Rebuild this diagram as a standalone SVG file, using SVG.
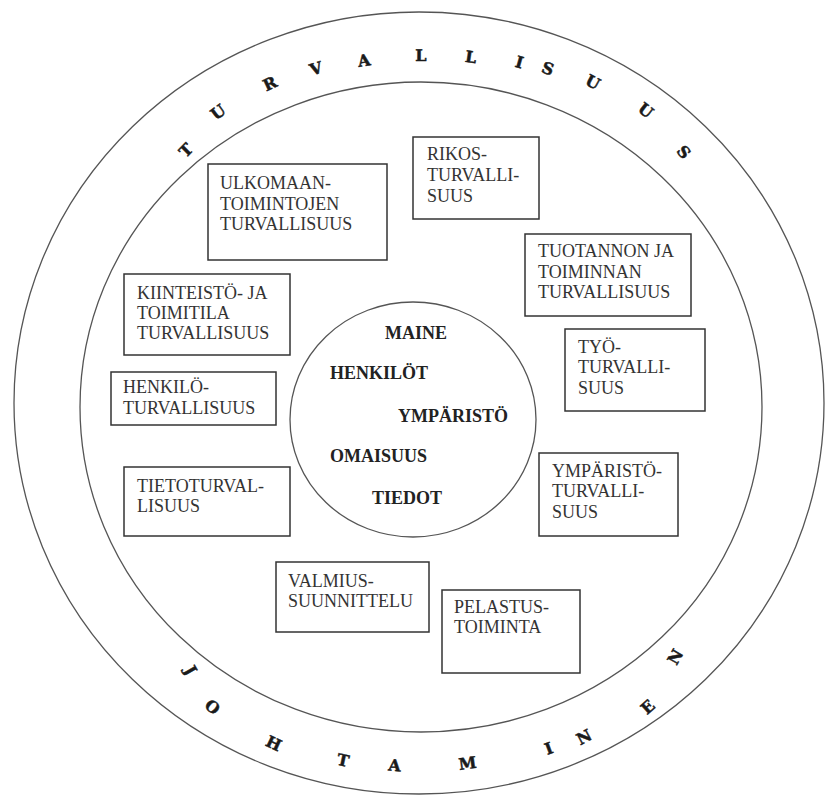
<svg xmlns="http://www.w3.org/2000/svg" width="830" height="796" viewBox="0 0 830 796">
<style>
.ring{fill:none;stroke:#555;stroke-width:1.3}
.box{fill:#fff;stroke:#333;stroke-width:1.5}
.bt{font-family:"Liberation Serif","Times New Roman",serif;font-size:18px;fill:#333}
.ct{font-family:"Liberation Serif","Times New Roman",serif;font-size:18px;font-weight:bold;fill:#222}
.arc{font-family:"DejaVu Serif","Liberation Serif",serif;font-size:16px;font-weight:bold;fill:#1a1a1a;stroke:#1a1a1a;stroke-width:0.5;text-anchor:middle}
</style>
<rect width="830" height="796" fill="#fff"/>
<g id="rings">
<ellipse class="ring" cx="419" cy="403" rx="405" ry="391"/>
<ellipse class="ring" cx="421" cy="407" rx="341" ry="325"/>
</g>
<g id="title-top">
<text class="arc" transform="translate(185.7,150) rotate(-45)" y="6">T</text>
<text class="arc" transform="translate(217.9,111.7) rotate(-36)" y="6">U</text>
<text class="arc" transform="translate(269.6,83.3) rotate(-25.1)" y="6">R</text>
<text class="arc" transform="translate(316,68.3) rotate(-17.2)" y="6">V</text>
<text class="arc" transform="translate(364,60) rotate(-9.2)" y="6">A</text>
<text class="arc" transform="translate(421,55) rotate(0.2)" y="6">L</text>
<text class="arc" transform="translate(471,56.7) rotate(8.3)" y="6">L</text>
<text class="arc" transform="translate(519.6,61.7) rotate(16.2)" y="6">I</text>
<text class="arc" transform="translate(548,68.3) rotate(20.8)" y="6">S</text>
<text class="arc" transform="translate(593,81.7) rotate(28.2)" y="6">U</text>
<text class="arc" transform="translate(646,110) rotate(38)" y="6">U</text>
<text class="arc" transform="translate(684,151.7) rotate(50)" y="6">S</text>
</g>
<g id="title-bottom">
<text class="arc" transform="translate(191,670) rotate(60)" y="6">J</text>
<text class="arc" transform="translate(212.6,706.7) rotate(40)" y="6">O</text>
<text class="arc" transform="translate(274,743) rotate(25)" y="6">H</text>
<text class="arc" transform="translate(343,760) rotate(12.2)" y="6">T</text>
<text class="arc" transform="translate(394.5,765) rotate(4.1)" y="6">A</text>
<text class="arc" transform="translate(467.6,763) rotate(-7.6)" y="6">M</text>
<text class="arc" transform="translate(548.6,748) rotate(-20.6)" y="6">I</text>
<text class="arc" transform="translate(584,736.7) rotate(-28)" y="6">N</text>
<text class="arc" transform="translate(647.4,706.7) rotate(-42)" y="6">E</text>
<text class="arc" transform="translate(675,656.7) rotate(-60)" y="6">N</text>
</g>
<g id="ulkomaan">
<rect class="box" x="208" y="164" width="179" height="96"/>
<text class="bt" x="220" y="189">ULKOMAAN-</text>
<text class="bt" x="220" y="209.5">TOIMINTOJEN</text>
<text class="bt" x="220" y="230">TURVALLISUUS</text>
</g>
<g id="rikos">
<rect class="box" x="413" y="137" width="126" height="82"/>
<text class="bt" x="427" y="160">RIKOS-</text>
<text class="bt" x="427" y="181">TURVALLI-</text>
<text class="bt" x="427" y="202">SUUS</text>
</g>
<g id="tuotannon">
<rect class="box" x="525" y="234" width="166" height="82"/>
<text class="bt" x="538" y="257">TUOTANNON JA</text>
<text class="bt" x="538" y="278">TOIMINNAN</text>
<text class="bt" x="538" y="298">TURVALLISUUS</text>
</g>
<g id="kiinteisto">
<rect class="box" x="124" y="274" width="166" height="81"/>
<text class="bt" x="137" y="299">KIINTEISTÖ- JA</text>
<text class="bt" x="137" y="319">TOIMITILA</text>
<text class="bt" x="137" y="339">TURVALLISUUS</text>
</g>
<g id="tyo">
<rect class="box" x="565" y="329" width="140" height="82"/>
<text class="bt" x="578" y="353">TYÖ-</text>
<text class="bt" x="578" y="373">TURVALLI-</text>
<text class="bt" x="578" y="394">SUUS</text>
</g>
<g id="henkilo">
<rect class="box" x="111" y="372" width="165" height="53"/>
<text class="bt" x="123" y="393">HENKILÖ-</text>
<text class="bt" x="123" y="414">TURVALLISUUS</text>
</g>
<g id="tieto">
<rect class="box" x="124" y="467" width="166" height="69"/>
<text class="bt" x="137" y="492">TIETOTURVAL-</text>
<text class="bt" x="137" y="512">LISUUS</text>
</g>
<g id="ymparisto">
<rect class="box" x="539" y="453" width="139" height="83"/>
<text class="bt" x="552" y="477">YMPÄRISTÖ-</text>
<text class="bt" x="552" y="497">TURVALLI-</text>
<text class="bt" x="552" y="518">SUUS</text>
</g>
<g id="valmius">
<rect class="box" x="276" y="562" width="153" height="70"/>
<text class="bt" x="288" y="587">VALMIUS-</text>
<text class="bt" x="288" y="607">SUUNNITTELU</text>
</g>
<g id="pelastus">
<rect class="box" x="442" y="590" width="138" height="83"/>
<text class="bt" x="454" y="613">PELASTUS-</text>
<text class="bt" x="454" y="633">TOIMINTA</text>
</g>
<g id="core">
<ellipse class="ring" cx="413" cy="419.5" rx="123" ry="117.5"/>
<text class="ct" x="385" y="339">MAINE</text>
<text class="ct" x="330" y="379">HENKILÖT</text>
<text class="ct" x="398" y="422">YMPÄRISTÖ</text>
<text class="ct" x="330" y="462">OMAISUUS</text>
<text class="ct" x="372" y="504">TIEDOT</text>
</g>
</svg>
